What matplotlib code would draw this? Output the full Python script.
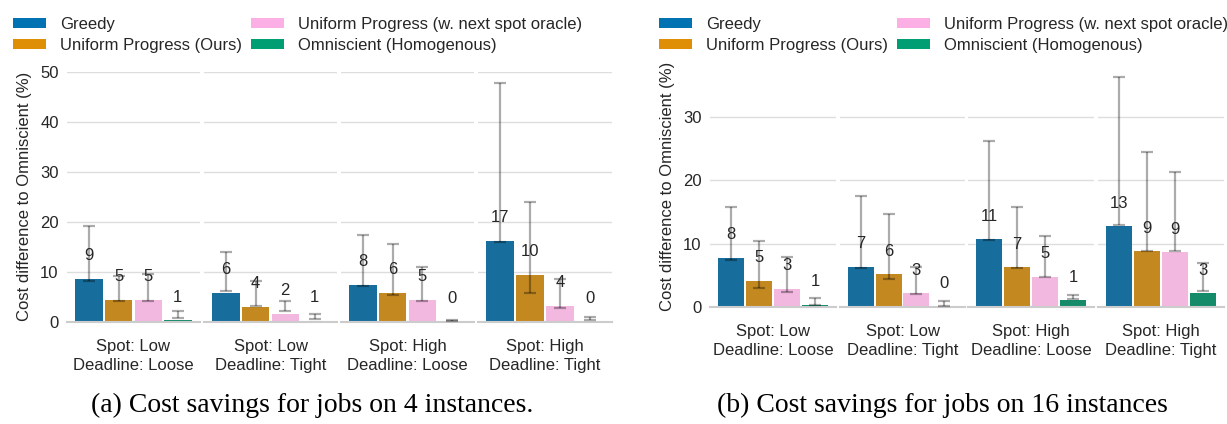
import colorsys
import matplotlib
matplotlib.use("Agg")
import matplotlib.pyplot as plt
import matplotlib.colors as mcolors
from matplotlib.patches import Patch

plt.rcParams['font.family'] = ['Liberation Sans', 'DejaVu Sans']

methods = ['Greedy', 'Uniform Progress (Ours)',
           'Uniform Progress (w. next spot oracle)', 'Omniscient (Homogenous)']
palette = ['#0173b2', '#de8f05', '#fbafe4', '#029e73']
scenarios = ['Spot: Low\nDeadline: Loose', 'Spot: Low\nDeadline: Tight',
             'Spot: High\nDeadline: Loose', 'Spot: High\nDeadline: Tight']

# (a) jobs on 4 instances -- one row per scenario, one value per method
bars_4 = [[8.7, 4.5, 4.5, 0.4],
          [5.9, 3.1, 1.7, 0.3],
          [7.5, 5.9, 4.5, 0.15],
          [16.3, 9.5, 3.3, 0.15]]
lo_4 = [[8.3, 4.3, 4.3, 0.8],
        [6.2, 3.3, 2.2, 0.6],
        [7.3, 5.5, 4.3, 0.3],
        [16.1, 5.8, 2.8, 0.5]]
hi_4 = [[19.2, 9.3, 9.7, 2.2],
        [14.1, 8.3, 4.3, 1.7],
        [17.5, 15.7, 11.1, 0.5],
        [47.8, 24.1, 8.6, 0.95]]
labels_4 = [[9, 5, 5, 1], [6, 4, 2, 1], [8, 6, 5, 0], [17, 10, 4, 0]]

# (b) jobs on 16 instances
bars_16 = [[7.8, 4.2, 2.9, 0.42],
           [6.4, 5.2, 2.2, 0.16],
           [10.7, 6.3, 4.8, 1.16],
           [12.8, 8.8, 8.7, 2.2]]
lo_16 = [[7.4, 3.05, 2.4, 0.37],
         [6.25, 4.5, 2.1, 0.26],
         [10.6, 6.2, 4.7, 1.3],
         [12.9, 8.9, 8.8, 2.5]]
hi_16 = [[15.8, 10.5, 7.9, 1.4],
         [17.6, 14.7, 6.4, 0.95],
         [26.2, 15.8, 11.3, 1.9],
         [36.3, 24.5, 21.3, 6.9]]
labels_16 = [[8, 5, 3, 1], [7, 6, 3, 0], [11, 7, 5, 1], [13, 9, 9, 3]]


def desat(c, s=0.75):
    r, g, b = mcolors.to_rgb(c)
    h, l, sat = colorsys.rgb_to_hls(r, g, b)
    return colorsys.hls_to_rgb(h, l, sat * s)


W, H = 1227, 424
fig = plt.figure(figsize=(W / 100, H / 100), dpi=100)
text_c = '#262626'


def panel(xs, y_bot, y_top, ymax, bars, lo, hi, labels, yticks):
    for i, (x0, x1) in enumerate(xs):
        ax = fig.add_axes([x0 / W, 1 - y_bot / H, (x1 - x0) / W, (y_bot - y_top) / H])
        ax.set_xlim(-0.45, 0.45)
        ax.set_ylim(0, ymax)
        for j in range(4):
            xc = -0.3 + 0.2 * j
            ax.bar(xc, bars[i][j], width=0.186, color=desat(palette[j]),
                   linewidth=0, zorder=2)
            mid = (lo[i][j] + hi[i][j]) / 2
            ax.errorbar(xc, mid, yerr=(hi[i][j] - lo[i][j]) / 2, fmt='none',
                        ecolor='k', alpha=0.33, elinewidth=1.6, capsize=4.5,
                        capthick=1.6, zorder=3)
            ax.annotate(str(labels[i][j]), (xc, bars[i][j]), xytext=(0, 16.5),
                        textcoords='offset points', ha='center', va='center',
                        fontsize=12, color=text_c, zorder=4)
        ax.set_yticks(yticks)
        ax.grid(axis='y', color='#dddddd', linewidth=1, zorder=0)
        ax.set_axisbelow(True)
        for s in ['top', 'right', 'left']:
            ax.spines[s].set_visible(False)
        ax.spines['bottom'].set_color('#cccccc')
        ax.spines['bottom'].set_linewidth(1.5)
        ax.set_xticks([0])
        ax.set_xticklabels([scenarios[i]], fontsize=12, color=text_c,
                           linespacing=1.35)
        ax.tick_params(axis='x', length=0, pad=12)
        ax.tick_params(axis='y', length=0, pad=6, labelsize=12, labelcolor=text_c)
        if i == 0:
            ax.set_ylabel('Cost difference to Omniscient (%)', fontsize=12,
                          color=text_c, labelpad=6)
        else:
            ax.set_yticklabels([])


panel([(67, 200), (204, 337), (341, 474), (478, 612)], 322, 71.5, 50.1,
      bars_4, lo_4, hi_4, labels_4, [0, 10, 20, 30, 40, 50])
panel([(710, 836), (840, 965), (968, 1094), (1098, 1224)], 307.3, 66, 38,
      bars_16, lo_16, hi_16, labels_16, [0, 10, 20, 30])

handles = [Patch(facecolor=c, edgecolor='none') for c in palette]
for x0 in [-2, 644]:
    fig.legend(handles, methods, ncol=2, loc='upper left',
               bbox_to_anchor=(x0 / W, 1 - 2 / H), frameon=False, fontsize=12,
               handlelength=2.0, handleheight=0.6, columnspacing=0.5,
               labelspacing=0.35, handletextpad=0.85, labelcolor=text_c)

fig.text(312 / W, 1 - 405 / H, '(a) Cost savings for jobs on 4 instances.',
         family='Liberation Serif', fontsize=20, ha='center', va='center')
fig.text(942 / W, 1 - 405 / H, '(b) Cost savings for jobs on 16 instances',
         family='Liberation Serif', fontsize=20, ha='center', va='center')

fig.savefig('out.png', dpi=100)
